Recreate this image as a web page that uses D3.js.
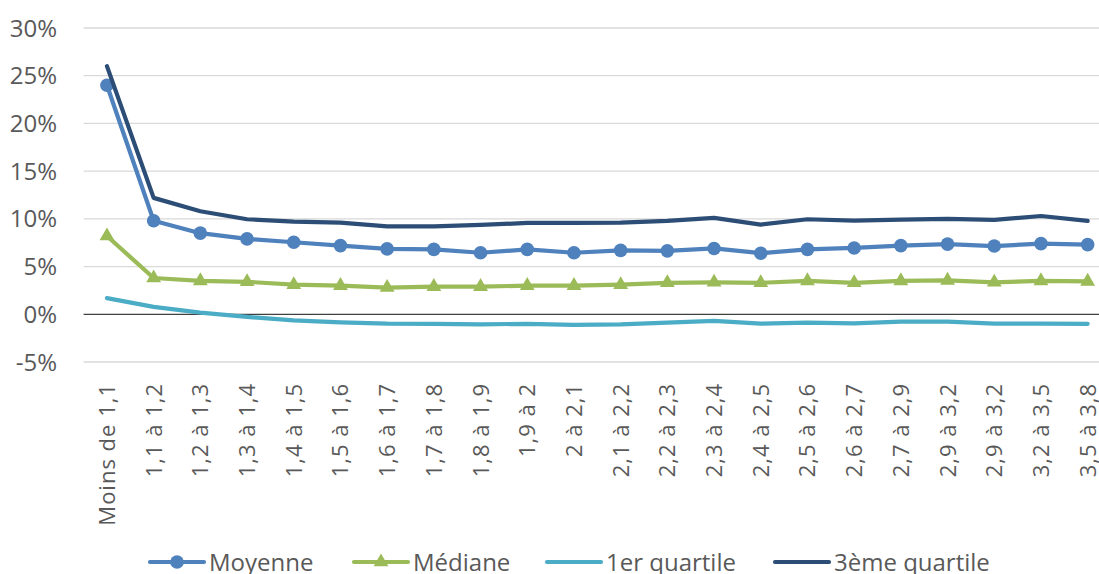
<!DOCTYPE html>
<html><head><meta charset="utf-8">
<script src="https://cdn.jsdelivr.net/npm/d3@7"></script>
<style>body{margin:0;background:#fff;} svg{display:block;font-family:"Open Sans",sans-serif;}</style>
</head><body><svg id="c" width="1099" height="574"></svg>
<script>
const categories = ["Moins de 1,1","1,1 à 1,2","1,2 à 1,3","1,3 à 1,4","1,4 à 1,5","1,5 à 1,6","1,6 à 1,7","1,7 à 1,8","1,8 à 1,9","1,9 à 2","2 à 2,1","2,1 à 2,2","2,2 à 2,3","2,3 à 2,4","2,4 à 2,5","2,5 à 2,6","2,6 à 2,7","2,7 à 2,9","2,9 à 3,2","2,9 à 3,2","3,2 à 3,5","3,5 à 3,8"];
const moyenne = [24.0,9.8,8.5,7.9,7.55,7.2,6.85,6.8,6.45,6.8,6.45,6.7,6.65,6.9,6.4,6.8,6.95,7.2,7.35,7.15,7.4,7.3];
const mediane = [8.2,3.8,3.5,3.4,3.1,3.0,2.8,2.9,2.9,3.0,3.0,3.1,3.3,3.35,3.3,3.5,3.3,3.5,3.55,3.35,3.5,3.45];
const quartile1 = [1.7,0.77,0.17,-0.28,-0.63,-0.84,-0.98,-1.0,-1.05,-1.0,-1.1,-1.05,-0.88,-0.7,-0.98,-0.88,-0.95,-0.77,-0.77,-0.98,-0.98,-1.0];
const quartile3 = [26.0,12.2,10.8,9.96,9.7,9.6,9.22,9.22,9.36,9.57,9.57,9.6,9.78,10.1,9.4,9.96,9.82,9.92,10.0,9.9,10.3,9.78];
const yTicks = [-5,0,5,10,15,20,25,30];
const seriesNames = ["Moyenne","Médiane","1er quartile","3ème quartile"];

const colors = {"Moyenne":"#4f81bd","Médiane":"#9bbb59","1er quartile":"#4bacc6","3ème quartile":"#2c4d75"};
const series = [
  {name:"Moyenne", values:moyenne, marker:"circle"},
  {name:"Médiane", values:mediane, marker:"triangle"},
  {name:"1er quartile", values:quartile1, marker:null},
  {name:"3ème quartile", values:quartile3, marker:null}
];

const svg = d3.select("#c");
const x = d3.scaleBand().domain(d3.range(categories.length)).range([83.6, 1111]);
const y = d3.scaleLinear().domain([-5,30]).range([362, 28]);
const cx = i => x(i) + x.bandwidth()/2;

// gridlines
svg.append("g").selectAll("line").data(yTicks.filter(d=>d!==0)).join("line")
  .attr("x1",83.6).attr("x2",1099).attr("y1",d=>y(d)).attr("y2",d=>y(d))
  .attr("stroke","#d9d9d9").attr("stroke-width",1.3);

// y labels
svg.append("g").selectAll("text").data(yTicks).join("text")
  .attr("x",57).attr("y",d=>y(d)).attr("dy","0.36em").attr("text-anchor","end")
  .attr("fill","#595959").attr("font-size",24).text(d=>d+"%");

// zero line
svg.append("line").attr("x1",83.6).attr("x2",1099).attr("y1",y(0)).attr("y2",y(0))
  .attr("stroke","#404040").attr("stroke-width",1.3);

// x labels
svg.append("g").selectAll("text").data(categories).join("text")
  .attr("transform",(d,i)=>`translate(${cx(i)+8},383) rotate(-90)`)
  .attr("text-anchor","end").attr("fill","#595959").attr("font-size",22)
  .attr("letter-spacing",1).text(d=>d);

const line = d3.line().x((d,i)=>cx(i)).y(d=>y(d));
const order = ["1er quartile","Médiane","Moyenne","3ème quartile"];
const tri = d3.symbol().type(d3.symbolTriangle).size(95);

order.forEach(n=>{
  const s = series.find(s=>s.name===n);
  const g = svg.append("g");
  g.append("path").datum(s.values).attr("d",line).attr("fill","none")
    .attr("stroke",colors[n]).attr("stroke-width",4.2).attr("stroke-linejoin","round").attr("stroke-linecap","round");
  if(s.marker==="circle"){
    g.selectAll("circle").data(s.values).join("circle").attr("cx",(d,i)=>cx(i)).attr("cy",d=>y(d)).attr("r",6.8).attr("fill",colors[n]);
  } else if(s.marker==="triangle"){
    g.selectAll("path.m").data(s.values).join("path").attr("class","m").attr("d",tri)
      .attr("transform",(d,i)=>`translate(${cx(i)},${y(d)})`).attr("fill",colors[n]);
  }
});

// legend
const legX = [150, 354, 547, 775];
seriesNames.forEach((n,k)=>{
  const g = svg.append("g").attr("transform",`translate(${legX[k]},562)`);
  g.append("line").attr("x1",0).attr("x2",54).attr("y1",0).attr("y2",0)
    .attr("stroke",colors[n]).attr("stroke-width",4.2).attr("stroke-linecap","round");
  const s = series.find(s=>s.name===n);
  if(s.marker==="circle") g.append("circle").attr("cx",27).attr("cy",0).attr("r",6.8).attr("fill",colors[n]);
  if(s.marker==="triangle") g.append("path").attr("d",tri).attr("transform","translate(27,0)").attr("fill",colors[n]);
  g.append("text").attr("x",59).attr("y",0).attr("dy","0.38em").attr("fill","#595959").attr("font-size",24).text(n);
});
</script></body></html>
